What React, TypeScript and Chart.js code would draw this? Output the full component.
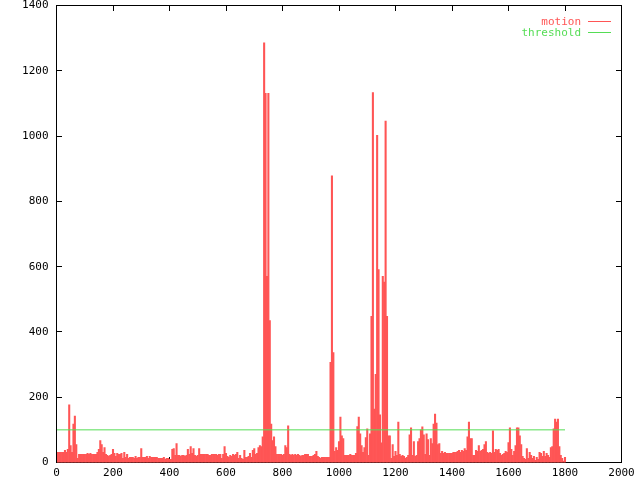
import { useEffect, useRef } from 'react';
import { Chart, registerables } from 'chart.js';

Chart.register(...registerables);

// ---- data ----
const FRAME_STEP = 5; // the motion series is sampled every 5 frames
const motion: number[] = [
  // 0 - 95
  31, 31, 31, 31, 31, 31, 37, 31, 40, 177, 52, 31, 118, 142, 55, 13, 25, 25, 25, 25,
  // 100 - 195
  25, 25, 28, 25, 28, 25, 25, 25, 25, 31, 40, 67, 55, 31, 46, 25, 22, 19, 22, 25,
  // 200 - 295
  40, 28, 19, 28, 25, 25, 28, 13, 31, 16, 25, 13, 16, 16, 16, 13, 19, 13, 16, 16,
  // 300 - 395
  43, 16, 16, 16, 19, 13, 19, 16, 16, 16, 16, 16, 13, 13, 13, 13, 16, 10, 13, 13,
  // 400 - 495
  10, 10, 40, 43, 22, 58, 22, 22, 19, 22, 22, 19, 22, 40, 25, 49, 28, 43, 22, 19,
  // 500 - 595
  22, 43, 25, 25, 25, 25, 25, 25, 22, 22, 25, 25, 25, 25, 22, 25, 25, 13, 25, 49,
  // 600 - 695
  28, 19, 16, 22, 19, 25, 22, 25, 31, 13, 22, 13, 10, 37, 16, 16, 19, 28, 16, 37,
  // 700 - 795
  43, 25, 28, 46, 52, 49, 79, 1286, 1131, 570, 1131, 435, 118, 67, 79, 49, 25, 25, 25, 25,
  // 800 - 895
  22, 25, 52, 46, 112, 25, 22, 25, 22, 25, 22, 25, 22, 19, 22, 22, 25, 25, 25, 19,
  // 900 - 995
  19, 19, 22, 25, 34, 19, 16, 13, 16, 16, 16, 16, 16, 16, 307, 878, 337, 34, 46, 37,
  // 1000 - 1095
  64, 139, 82, 73, 22, 22, 22, 22, 25, 22, 22, 22, 28, 110, 139, 88, 52, 31, 46, 76,
  // 1100 - 1195
  103, 22, 88, 448, 1133, 164, 270, 1002, 591, 146, 60, 570, 553, 1046, 448, 82, 82, 13, 55, 19,
  // 1200 - 1295
  34, 22, 124, 25, 19, 22, 19, 13, 16, 22, 85, 106, 22, 64, 19, 22, 64, 73, 100, 109,
  // 1300 - 1395
  85, 25, 88, 70, 22, 73, 58, 118, 148, 121, 55, 58, 28, 34, 28, 31, 28, 28, 28, 28,
  // 1400 - 1495
  28, 31, 31, 31, 34, 37, 31, 37, 34, 43, 37, 79, 124, 73, 73, 22, 22, 37, 34, 52,
  // 1500 - 1595
  34, 37, 40, 55, 64, 31, 28, 31, 28, 97, 31, 40, 37, 40, 28, 22, 25, 28, 34, 31,
  // 1600 - 1695
  61, 106, 40, 22, 34, 52, 106, 106, 82, 55, 19, 13, 10, 43, 13, 31, 22, 13, 19, 7,
  // 1700 - 1795
  16, 10, 31, 28, 19, 34, 19, 28, 22, 16, 46, 49, 103, 133, 124, 133, 49, 22, 13, 4,
  // 1800
  16,
];
const frames: number[] = motion.map((_, i) => i * FRAME_STEP);

const thresholdFrames: number[] = [0, 1800];
const thresholdValues: number[] = [100, 100];

const xTicks: number[] = [0, 200, 400, 600, 800, 1000, 1200, 1400, 1600, 1800, 2000];
const yTicks: number[] = [0, 200, 400, 600, 800, 1000, 1200, 1400];

const seriesNames: string[] = ['motion', 'threshold'];
const seriesColors: string[] = ['#ff5555', '#55dd55'];

const FONT = '"DejaVu Sans Mono", "Liberation Mono", monospace';
const FONT_SIZE = 11;
const TICK_LEN = 6;

const px = (v: number) => Math.floor(v) + 0.5;

const gnuplotFrame = {
  id: 'gnuplotFrame',
  beforeDatasetsDraw(chart: any) {
    const { ctx, chartArea: a, scales } = chart;
    const L = px(a.left), R = px(a.right), T = px(a.top), B = px(a.bottom);
    ctx.save();
    ctx.strokeStyle = '#000';
    ctx.lineWidth = 1;
    ctx.beginPath();
    ctx.rect(L, T, R - L, B - T);
    for (const v of yTicks) {
      const y = px(scales.y.getPixelForValue(v));
      ctx.moveTo(L - 0.5, y);
      ctx.lineTo(L - 0.5 + TICK_LEN, y);
      ctx.moveTo(R + 0.5, y);
      ctx.lineTo(R + 0.5 - TICK_LEN, y);
    }
    for (const v of xTicks) {
      const x = px(scales.x.getPixelForValue(v));
      ctx.moveTo(x, B + 0.5);
      ctx.lineTo(x, B + 0.5 - TICK_LEN);
      ctx.moveTo(x, T - 0.5);
      ctx.lineTo(x, T - 0.5 + TICK_LEN);
    }
    ctx.stroke();
    ctx.restore();
  },
  afterDatasetsDraw(chart: any) {
    const { ctx, chartArea: a } = chart;
    const L = px(a.left), T = px(a.top), B = px(a.bottom);
    ctx.save();
    ctx.strokeStyle = '#000';
    ctx.lineWidth = 1;
    ctx.beginPath();
    ctx.moveTo(L, T);
    ctx.lineTo(L, B + 0.5);
    ctx.stroke();
    // legend (gnuplot style: text right-aligned, then a line sample)
    ctx.font = `${FONT_SIZE}px ${FONT}`;
    ctx.textAlign = 'right';
    ctx.textBaseline = 'alphabetic';
    chart.data.datasets.forEach((ds: any, i: number) => {
      const color = ds.borderColor;
      ctx.fillStyle = color;
      ctx.fillText(ds.label, 581, 25 + i * 11);
      ctx.strokeStyle = color;
      ctx.beginPath();
      ctx.moveTo(588, 21.5 + i * 11);
      ctx.lineTo(611, 21.5 + i * 11);
      ctx.stroke();
    });
    ctx.restore();
  },
};

export default function App() {
  const canvasRef = useRef<HTMLCanvasElement | null>(null);

  useEffect(() => {
    const canvas = canvasRef.current;
    if (!canvas) return;
    const chart = new Chart(canvas, {
      type: 'bar',
      data: {
        datasets: [
          {
            type: 'bar',
            label: seriesNames[0],
            data: frames.map((f, i) => ({ x: f, y: motion[i] })),
            backgroundColor: seriesColors[0],
            borderColor: seriesColors[0],
            borderWidth: 0,
            barPercentage: 1,
            categoryPercentage: 1,
            order: 1,
          } as any,
          {
            type: 'line',
            label: seriesNames[1],
            data: thresholdFrames.map((f, i) => ({ x: f, y: thresholdValues[i] })),
            borderColor: seriesColors[1],
            backgroundColor: seriesColors[1],
            borderWidth: 1,
            pointRadius: 0,
            fill: false,
            order: 0,
          } as any,
        ],
      },
      options: {
        animation: false,
        responsive: false,
        maintainAspectRatio: false,
        layout: { padding: { left: 0.5, top: 5.5, right: 18.5, bottom: 0 } },
        plugins: {
          legend: { display: false },
          tooltip: { enabled: false },
        },
        scales: {
          x: {
            type: 'linear',
            min: 0,
            max: 2000,
            offset: false,
            grid: { display: false, drawTicks: false, offset: false },
            border: { display: false },
            afterBuildTicks: (s: any) => {
              s.ticks = xTicks.map((v) => ({ value: v }));
            },
            afterFit: (s: any) => {
              s.height = 17.5;
              s.paddingLeft = 0;
              s.paddingRight = 0;
            },
            ticks: {
              autoSkip: false,
              maxRotation: 0,
              padding: 4,
              color: '#000',
              font: { family: FONT, size: FONT_SIZE },
              callback: (v: any) => String(v),
            },
          },
          y: {
            type: 'linear',
            min: 0,
            max: 1400,
            grid: { display: false, drawTicks: false },
            border: { display: false },
            afterBuildTicks: (s: any) => {
              s.ticks = yTicks.map((v) => ({ value: v }));
            },
            afterFit: (s: any) => {
              s.width = 56;
              s.paddingTop = 0;
              s.paddingBottom = 0;
            },
            ticks: {
              padding: 8,
              color: '#000',
              font: { family: FONT, size: FONT_SIZE },
              callback: (v: any) => String(v),
            },
          },
        },
      } as any,
      plugins: [gnuplotFrame],
    });
    return () => chart.destroy();
  }, []);

  return (
    <div style={{ position: 'absolute', left: 0, top: 0, width: 640, height: 480, background: '#fff' }}>
      <canvas ref={canvasRef} width={640} height={480} />
    </div>
  );
}
